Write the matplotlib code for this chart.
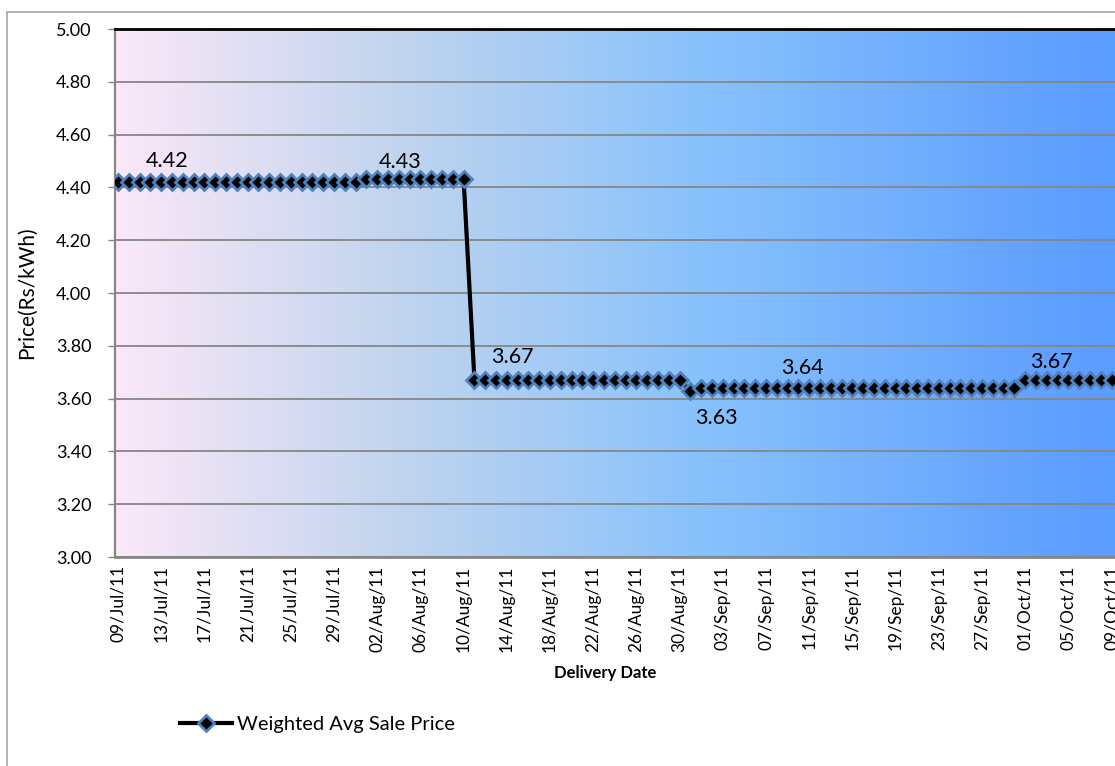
import matplotlib
matplotlib.use('Agg')
import matplotlib.pyplot as plt
import matplotlib.dates as mdates
from matplotlib.colors import LinearSegmentedColormap
from matplotlib.patches import Rectangle
import numpy as np
import pandas as pd

plt.rcParams['font.family'] = ['Lato', 'DejaVu Sans']

# daily delivery dates, 09/Jul/11 .. 09/Oct/11
dates = pd.date_range('2011-07-09', '2011-10-09', freq='D')
prices = [
    # 09/Jul - 31/Jul
    4.42, 4.42, 4.42, 4.42, 4.42, 4.42, 4.42, 4.42, 4.42, 4.42, 4.42, 4.42,
    4.42, 4.42, 4.42, 4.42, 4.42, 4.42, 4.42, 4.42, 4.42, 4.42, 4.42,
    # 01/Aug - 10/Aug
    4.43, 4.43, 4.43, 4.43, 4.43, 4.43, 4.43, 4.43, 4.43, 4.43,
    # 11/Aug - 31/Aug
    3.67, 3.67, 3.67, 3.67, 3.67, 3.67, 3.67, 3.67, 3.67, 3.67,
    3.67, 3.67, 3.67, 3.67, 3.67, 3.67, 3.67, 3.67, 3.67, 3.67,
    3.63,
    # 01/Sep - 30/Sep
    3.64, 3.64, 3.64, 3.64, 3.64, 3.64, 3.64, 3.64, 3.64, 3.64,
    3.64, 3.64, 3.64, 3.64, 3.64, 3.64, 3.64, 3.64, 3.64, 3.64,
    3.64, 3.64, 3.64, 3.64, 3.64, 3.64, 3.64, 3.64, 3.64, 3.64,
    # 01/Oct - 09/Oct
    3.67, 3.67, 3.67, 3.67, 3.67, 3.67, 3.67, 3.67, 3.67,
]

# data labels shown on the chart
label_dates = ['2011-07-13', '2011-08-04', '2011-08-14', '2011-08-31', '2011-09-10', '2011-10-03']
label_offsets = [(6, 21), (1, 17), (6, 23), (26, -27), (4, 20), (5, 18)]

W, H = 1115, 766
fig = plt.figure(figsize=(W / 100, H / 100), dpi=100)

# outer chart border (cut off at right and bottom like the original)
fig.patches.append(Rectangle((7 / W, -0.1), 1.2, 1.1 - 12 / H, transform=fig.transFigure,
                             fill=False, edgecolor='#a6a6a6', linewidth=1.2))

ax = fig.add_axes([115 / W, 1 - 557 / H, 1001 / W, 528 / H])

# horizontal gradient plot-area fill
cmap = LinearSegmentedColormap.from_list('bg', [
    (0.0, '#fbe8f8'), (0.285, '#c0d4ee'), (0.585, '#88c2fc'), (0.964, '#5e9eff'), (1.0, '#5b9cff')])
ax.imshow(np.linspace(0, 1, 512)[None, :], cmap=cmap, aspect='auto',
          extent=[0, 1, 0, 1], transform=ax.transAxes, zorder=0)

x = mdates.date2num(dates)
ax.plot(x, prices, color='black', linewidth=3, marker='D', markersize=8,
        markerfacecolor='black', markeredgecolor='#4f81bd', markeredgewidth=2,
        zorder=3, label='Weighted Avg Sale Price')

for d, off in zip(label_dates, label_offsets):
    i = dates.get_loc(pd.Timestamp(d))
    ax.annotate(f'{prices[i]:.2f}', xy=(x[i], prices[i]), xytext=off,
                textcoords='offset pixels', ha='center', va='center',
                fontsize=15.5, color='black', zorder=4)

ax.set_ylim(3.0, 5.0)
ax.set_xlim(x[0] - 0.28, x[0] + 92.4)
ax.set_yticks(np.arange(3.0, 5.01, 0.2))
ax.yaxis.set_major_formatter(plt.FuncFormatter(lambda v, p: f'{v:.2f}'))
ax.set_xticks(x[::4])
ax.set_xticklabels([d.strftime('%d/%b/%y') for d in dates[::4]], rotation=90,
                   fontsize=12.5, va='top', ha='center')
ax.tick_params(axis='x', length=0, pad=6)
ax.tick_params(axis='y', length=5, width=1, color='#868686', labelsize=13, pad=12)

ax.grid(axis='y', color='#868686', linewidth=1.3, zorder=1)
ax.set_axisbelow(True)
for s in ['left', 'bottom']:
    ax.spines[s].set_color('#868686')
    ax.spines[s].set_linewidth(1.6)
ax.spines['bottom'].set_linewidth(2)
ax.spines['top'].set_color('black')
ax.spines['top'].set_linewidth(2)
ax.spines['right'].set_visible(False)

fig.text(27 / W, 1 - 293 / H, 'Price(Rs/kWh)', rotation=90, ha='center', va='center', fontsize=15)
fig.text(605 / W, 1 - 673 / H, 'Delivery Date', ha='center', va='center', fontsize=12, fontweight='bold')

fig.legend(loc='center left', bbox_to_anchor=(180 / W, 1 - 724 / H), frameon=False,
           fontsize=14.5, handlelength=2.6, handletextpad=0.25, borderpad=0, borderaxespad=0)

fig.savefig('out.png', dpi=100)
